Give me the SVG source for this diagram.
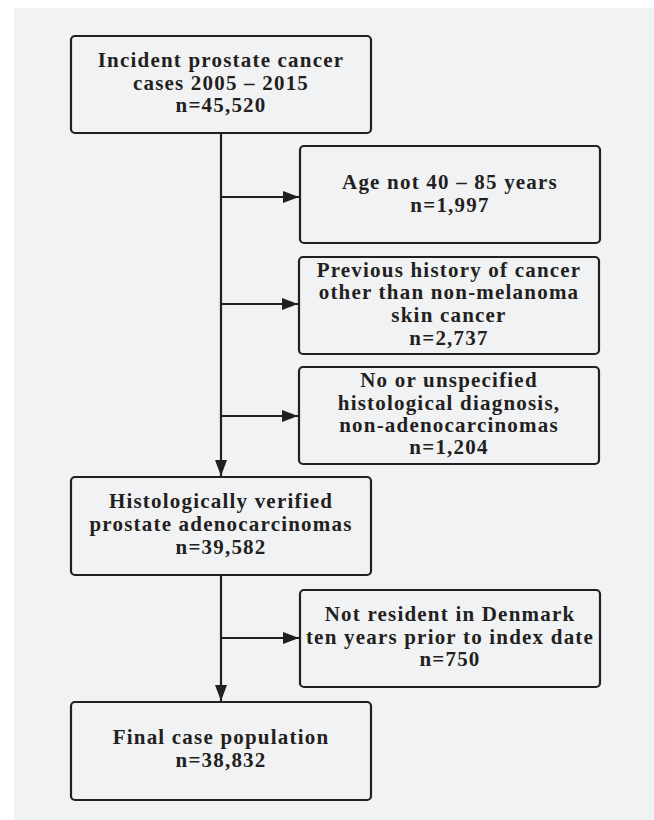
<svg xmlns="http://www.w3.org/2000/svg" width="654" height="820" viewBox="0 0 654 820">
<style>
.box{fill:none;stroke:#231f20;stroke-width:2.2}
.t{font-family:"Liberation Serif","Times New Roman",serif;font-weight:bold;font-size:21px;letter-spacing:1.2px;fill:#231f20;text-anchor:middle}
.c{stroke:#231f20;stroke-width:2.2;fill:none}
</style>
<defs>
<marker id="ah" viewBox="0 0 16 12" refX="16" refY="6" markerWidth="16" markerHeight="12" markerUnits="userSpaceOnUse" orient="auto">
<path d="M0,0 L16,6 L0,12 Z" fill="#231f20"/>
</marker>
</defs>
<rect x="0" y="0" width="654" height="820" fill="#ffffff"/>
<rect x="14" y="8" width="640" height="812" fill="#f1f2f4"/>
<g id="connectors">
<line class="c" x1="221" y1="133" x2="221" y2="476" marker-end="url(#ah)"/>
<line class="c" x1="221" y1="197" x2="299" y2="197" marker-end="url(#ah)"/>
<line class="c" x1="221" y1="304" x2="298" y2="304" marker-end="url(#ah)"/>
<line class="c" x1="221" y1="416" x2="298" y2="416" marker-end="url(#ah)"/>
<line class="c" x1="221" y1="575" x2="221" y2="701" marker-end="url(#ah)"/>
<line class="c" x1="221" y1="638" x2="299" y2="638" marker-end="url(#ah)"/>
</g>
<g id="n1">
<rect class="box" x="71" y="36" width="300" height="97" rx="4"/>
<text class="t" x="221" y="67">Incident prostate cancer</text>
<text class="t" x="221" y="90">cases 2005 – 2015</text>
<text class="t" x="221" y="112">n=45,520</text>
</g>
<g id="n2">
<rect class="box" x="300" y="146" width="300" height="97" rx="4"/>
<text class="t" x="450" y="189">Age not 40 – 85 years</text>
<text class="t" x="450" y="212">n=1,997</text>
</g>
<g id="n3">
<rect class="box" x="299" y="257" width="300" height="97" rx="4"/>
<text class="t" x="449" y="277">Previous history of cancer</text>
<text class="t" x="449" y="299">other than non-melanoma</text>
<text class="t" x="449" y="322">skin cancer</text>
<text class="t" x="449" y="345">n=2,737</text>
</g>
<g id="n4">
<rect class="box" x="299" y="367" width="300" height="97" rx="4"/>
<text class="t" x="449" y="387">No or unspecified</text>
<text class="t" x="449" y="410">histological diagnosis,</text>
<text class="t" x="449" y="432">non-adenocarcinomas</text>
<text class="t" x="449" y="454">n=1,204</text>
</g>
<g id="n5">
<rect class="box" x="71" y="477" width="300" height="98" rx="4"/>
<text class="t" x="221" y="508">Histologically verified</text>
<text class="t" x="221" y="531">prostate adenocarcinomas</text>
<text class="t" x="221" y="554">n=39,582</text>
</g>
<g id="n6">
<rect class="box" x="300" y="590" width="300" height="97" rx="4"/>
<text class="t" x="450" y="621">Not resident in Denmark</text>
<text class="t" x="450" y="644" letter-spacing="0.9">ten years prior to index date</text>
<text class="t" x="450" y="666">n=750</text>
</g>
<g id="n7">
<rect class="box" x="71" y="702" width="300" height="98" rx="4"/>
<text class="t" x="221" y="744">Final case population</text>
<text class="t" x="221" y="767">n=38,832</text>
</g>
</svg>
